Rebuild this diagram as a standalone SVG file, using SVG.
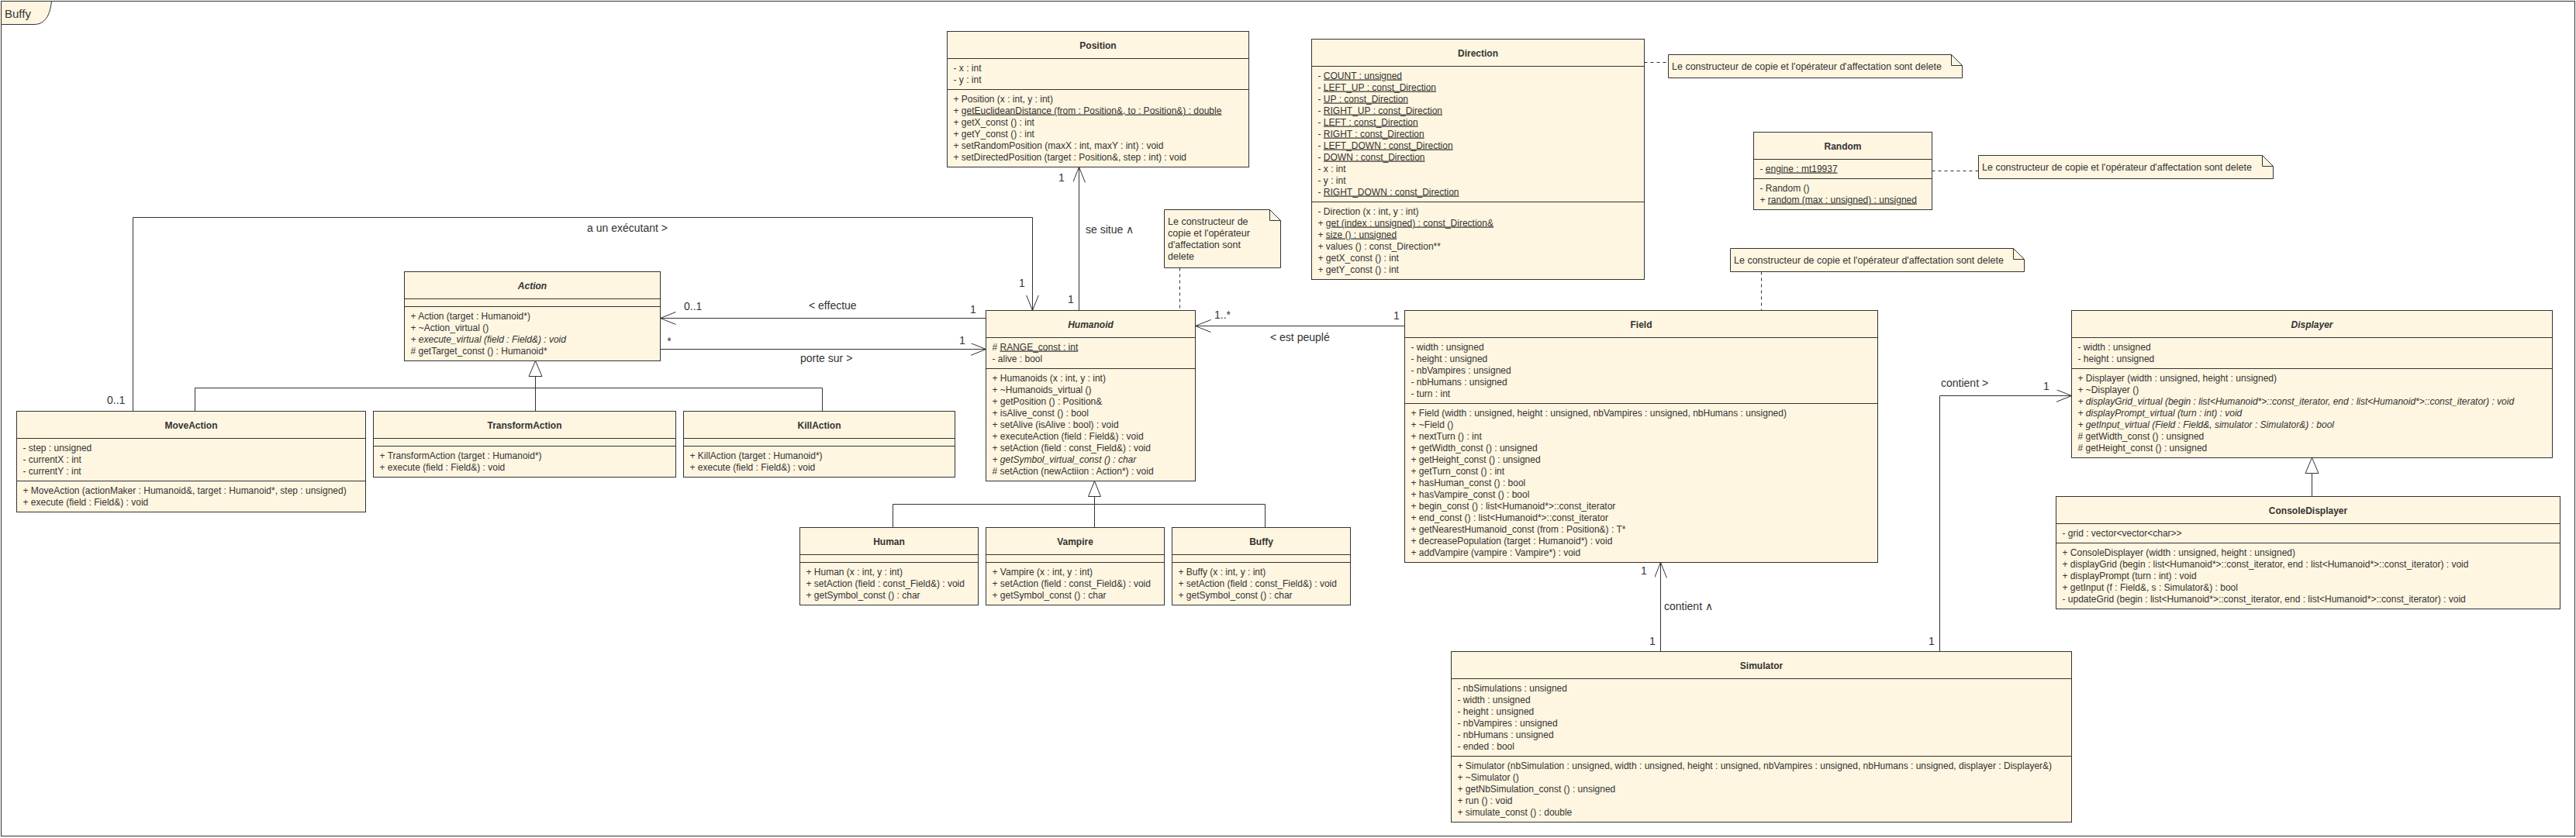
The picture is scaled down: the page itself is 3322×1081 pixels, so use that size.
<svg xmlns="http://www.w3.org/2000/svg" width="3322" height="1081" viewBox="0 0 3322 1081">
<style>
.box{fill:#fef6e1;stroke:#333;stroke-width:1}
.sep{stroke:#333;stroke-width:1;fill:none}
text{font-family:"Liberation Sans",Arial,sans-serif;font-size:12px;fill:#333}
.title{font-weight:bold;text-anchor:middle}
.it{font-style:italic}
.u{text-decoration:underline}
.lbl{font-size:14px}
.mid{text-anchor:middle}
.con{fill:none;stroke:#333;stroke-width:1}
.dash{fill:none;stroke:#333;stroke-width:1;stroke-dasharray:4 4}
.gen{fill:#fff;stroke:#333;stroke-width:1}
.note{font-size:12.5px}
</style>
<defs>
<marker id="open" markerUnits="userSpaceOnUse" markerWidth="22" markerHeight="18" refX="20" refY="8" orient="auto">
<path d="M0,0 L20,8 L0,16" fill="none" stroke="#333" stroke-width="1"/>
</marker>
</defs>
<rect width="3322" height="1081" fill="#fff"/>
<g id="frame">
<rect x="1.5" y="1.5" width="3319" height="1077" fill="none" stroke="#333" stroke-width="1"/>
<path d="M1.5,1.5 H66.5 C64.5,20 58,31.5 44,31.5 H1.5 Z" class="box"/>
<text x="6" y="23" style="font-size:15px">Buffy</text>
</g>

<g id="connectors">
<path class="con" d="M171.5,530.5 V280.5 H1331.5 V400.5" marker-end="url(#open)"/>
<path class="con" d="M1271.5,410.5 H851.5" marker-end="url(#open)"/>
<path class="con" d="M851.5,450.5 H1271.5" marker-end="url(#open)"/>
<path class="con" d="M1811.5,420.5 H1541.5" marker-end="url(#open)"/>
<path class="con" d="M1391.5,400.5 V215.5" marker-end="url(#open)"/>
<path class="con" d="M2141.5,840.5 V725.5" marker-end="url(#open)"/>
<path class="con" d="M2501.5,840.5 V510.5 H2671.5" marker-end="url(#open)"/>
<path class="con" d="M690.5,485.5 V530.5 M251.5,530.5 V500.5 H1060.5 V530.5"/>
<polygon class="gen" points="690.5,465.5 682,485.5 699,485.5"/>
<path class="con" d="M1411.5,640.5 V680.5 M1151.5,680.5 V650.5 H1631.5 V680.5"/>
<polygon class="gen" points="1411.5,620.5 1403.5,640.5 1419.5,640.5"/>
<path class="con" d="M2981.5,610.5 V640.5"/>
<polygon class="gen" points="2981.5,590.5 2973,610.5 2990,610.5"/>
<path class="dash" d="M2120.5,80.5 H2151.5"/>
<path class="dash" d="M2491.5,220.5 H2551.5"/>
<path class="dash" d="M2271.5,350.5 V400.5"/>
<path class="dash" d="M1521.5,345.5 V400.5"/>
<text class="lbl" x="757" y="299">a un exécutant &gt;</text>
<text class="lbl" x="1043" y="399">&lt; effectue</text>
<text class="lbl" x="1032" y="467">porte sur &gt;</text>
<text class="lbl" x="1638" y="440">&lt; est peuplé</text>
<text class="lbl" x="1400" y="301">se situe ∧</text>
<text class="lbl" x="2146" y="787">contient ∧</text>
<text class="lbl" x="2503" y="499">contient &gt;</text>
<text class="lbl mid" x="1369" y="234">1</text>
<text class="lbl mid" x="1381" y="391">1</text>
<text class="lbl" x="138" y="521">0..1</text>
<text class="lbl mid" x="1318" y="370">1</text>
<text class="lbl" x="882" y="400">0..1</text>
<text class="lbl mid" x="1255" y="404">1</text>
<text class="lbl mid" x="863" y="445">*</text>
<text class="lbl mid" x="1241" y="444">1</text>
<text class="lbl" x="1566" y="411">1..*</text>
<text class="lbl mid" x="1801" y="412">1</text>
<text class="lbl mid" x="2120" y="741">1</text>
<text class="lbl mid" x="2131" y="832">1</text>
<text class="lbl mid" x="2639" y="503">1</text>
<text class="lbl mid" x="2491" y="832">1</text>
</g>

<g id="note-direction">
<path class="box" d="M2151.5,70.5 H2516.5 L2530.5,84.5 V100.5 H2151.5 Z"/>
<path class="sep" d="M2516.5,70.5 V84.5 H2530.5"/>
<text class="note" x="2156" y="90">Le constructeur de copie et l'opérateur d'affectation sont delete</text>
</g>
<g id="note-random">
<path class="box" d="M2551.5,200.5 H2917.5 L2931.5,214.5 V230.5 H2551.5 Z"/>
<path class="sep" d="M2917.5,200.5 V214.5 H2931.5"/>
<text class="note" x="2556" y="220">Le constructeur de copie et l'opérateur d'affectation sont delete</text>
</g>
<g id="note-field">
<path class="box" d="M2231.5,320.5 H2596.5 L2610.5,334.5 V350.5 H2231.5 Z"/>
<path class="sep" d="M2596.5,320.5 V334.5 H2610.5"/>
<text class="note" x="2236" y="340">Le constructeur de copie et l'opérateur d'affectation sont delete</text>
</g>
<g id="note-humanoid">
<path class="box" d="M1501.5,270.5 H1637.5 L1651.5,284.5 V345.5 H1501.5 Z"/>
<path class="sep" d="M1637.5,270.5 V284.5 H1651.5"/>
<text class="note" x="1506" y="290">Le constructeur de</text>
<text class="note" x="1506" y="305">copie et l'opérateur</text>
<text class="note" x="1506" y="320">d'affectation sont</text>
<text class="note" x="1506" y="335">delete</text>
</g>

<g id="Position">
<rect class="box" x="1221.5" y="40.5" width="389" height="175"/>
<path class="sep" d="M1221.5,75.5 H1610.5 M1221.5,115.5 H1610.5"/>
<text class="title" x="1416" y="62.5">Position</text>
<text x="1229.5" y="91.5">- x : int</text>
<text x="1229.5" y="106.5">- y : int</text>
<text x="1229.5" y="131.5">+ Position (x : int, y : int)</text>
<text x="1229.5" y="146.5">+ <tspan class="u">getEuclideanDistance (from : Position&amp;, to : Position&amp;) : double</tspan></text>
<text x="1229.5" y="161.5">+ getX_const () : int</text>
<text x="1229.5" y="176.5">+ getY_const () : int</text>
<text x="1229.5" y="191.5">+ setRandomPosition (maxX : int, maxY : int) : void</text>
<text x="1229.5" y="206.5">+ setDirectedPosition (target : Position&amp;, step : int) : void</text>
</g>

<g id="Direction">
<rect class="box" x="1691.5" y="50.5" width="429" height="310"/>
<path class="sep" d="M1691.5,85.5 H2120.5 M1691.5,260.5 H2120.5"/>
<text class="title" x="1906" y="72.5">Direction</text>
<text x="1699.5" y="101.5">- <tspan class="u">COUNT : unsigned</tspan></text>
<text x="1699.5" y="116.5">- <tspan class="u">LEFT_UP : const_Direction</tspan></text>
<text x="1699.5" y="131.5">- <tspan class="u">UP : const_Direction</tspan></text>
<text x="1699.5" y="146.5">- <tspan class="u">RIGHT_UP : const_Direction</tspan></text>
<text x="1699.5" y="161.5">- <tspan class="u">LEFT : const_Direction</tspan></text>
<text x="1699.5" y="176.5">- <tspan class="u">RIGHT : const_Direction</tspan></text>
<text x="1699.5" y="191.5">- <tspan class="u">LEFT_DOWN : const_Direction</tspan></text>
<text x="1699.5" y="206.5">- <tspan class="u">DOWN : const_Direction</tspan></text>
<text x="1699.5" y="221.5">- x : int</text>
<text x="1699.5" y="236.5">- y : int</text>
<text x="1699.5" y="251.5">- <tspan class="u">RIGHT_DOWN : const_Direction</tspan></text>
<text x="1699.5" y="276.5">- Direction (x : int, y : int)</text>
<text x="1699.5" y="291.5">+ <tspan class="u">get (index : unsigned) : const_Direction&amp;</tspan></text>
<text x="1699.5" y="306.5">+ <tspan class="u">size () : unsigned</tspan></text>
<text x="1699.5" y="321.5">+ values () : const_Direction**</text>
<text x="1699.5" y="336.5">+ getX_const () : int</text>
<text x="1699.5" y="351.5">+ getY_const () : int</text>
</g>

<g id="Random">
<rect class="box" x="2261.5" y="170.5" width="230" height="100"/>
<path class="sep" d="M2261.5,205.5 H2491.5 M2261.5,230.5 H2491.5"/>
<text class="title" x="2376.5" y="192.5">Random</text>
<text x="2269.5" y="221.5">- <tspan class="u">engine : mt19937</tspan></text>
<text x="2269.5" y="246.5">- Random ()</text>
<text x="2269.5" y="261.5">+ <tspan class="u">random (max : unsigned) : unsigned</tspan></text>
</g>

<g id="Humanoid">
<rect class="box" x="1271.5" y="400.5" width="270" height="220"/>
<path class="sep" d="M1271.5,435.5 H1541.5 M1271.5,475.5 H1541.5"/>
<text class="title it" x="1406.5" y="422.5">Humanoid</text>
<text x="1279.5" y="451.5"># <tspan class="u">RANGE_const : int</tspan></text>
<text x="1279.5" y="466.5">- alive : bool</text>
<text x="1279.5" y="491.5">+ Humanoids (x : int, y : int)</text>
<text x="1279.5" y="506.5">+ ~Humanoids_virtual ()</text>
<text x="1279.5" y="521.5">+ getPosition () : Position&amp;</text>
<text x="1279.5" y="536.5">+ isAlive_const () : bool</text>
<text x="1279.5" y="551.5">+ setAlive (isAlive : bool) : void</text>
<text x="1279.5" y="566.5">+ executeAction (field : Field&amp;) : void</text>
<text x="1279.5" y="581.5">+ setAction (field : const_Field&amp;) : void</text>
<text class="it" x="1279.5" y="596.5">+ getSymbol_virtual_const () : char</text>
<text x="1279.5" y="611.5"># setAction (newActiion : Action*) : void</text>
</g>

<g id="Field">
<rect class="box" x="1811.5" y="400.5" width="610" height="325"/>
<path class="sep" d="M1811.5,435.5 H2421.5 M1811.5,520.5 H2421.5"/>
<text class="title" x="2116.5" y="422.5">Field</text>
<text x="1819.5" y="451.5">- width : unsigned</text>
<text x="1819.5" y="466.5">- height : unsigned</text>
<text x="1819.5" y="481.5">- nbVampires : unsigned</text>
<text x="1819.5" y="496.5">- nbHumans : unsigned</text>
<text x="1819.5" y="511.5">- turn : int</text>
<text x="1819.5" y="536.5">+ Field (width : unsigned, height : unsigned, nbVampires : unsigned, nbHumans : unsigned)</text>
<text x="1819.5" y="551.5">+ ~Field ()</text>
<text x="1819.5" y="566.5">+ nextTurn () : int</text>
<text x="1819.5" y="581.5">+ getWidth_const () : unsigned</text>
<text x="1819.5" y="596.5">+ getHeight_const () : unsigned</text>
<text x="1819.5" y="611.5">+ getTurn_const () : int</text>
<text x="1819.5" y="626.5">+ hasHuman_const () : bool</text>
<text x="1819.5" y="641.5">+ hasVampire_const () : bool</text>
<text x="1819.5" y="656.5">+ begin_const () : list&lt;Humanoid*&gt;::const_iterator</text>
<text x="1819.5" y="671.5">+ end_const () : list&lt;Humanoid*&gt;::const_iterator</text>
<text x="1819.5" y="686.5">+ getNearestHumanoid_const (from : Position&amp;) : T*</text>
<text x="1819.5" y="701.5">+ decreasePopulation (target : Humanoid*) : void</text>
<text x="1819.5" y="716.5">+ addVampire (vampire : Vampire*) : void</text>
</g>

<g id="Displayer">
<rect class="box" x="2671.5" y="400.5" width="620" height="190"/>
<path class="sep" d="M2671.5,435.5 H3291.5 M2671.5,475.5 H3291.5"/>
<text class="title it" x="2981.5" y="422.5">Displayer</text>
<text x="2679.5" y="451.5">- width : unsigned</text>
<text x="2679.5" y="466.5">- height : unsigned</text>
<text x="2679.5" y="491.5">+ Displayer (width : unsigned, height : unsigned)</text>
<text x="2679.5" y="506.5">+ ~Displayer ()</text>
<text class="it" x="2679.5" y="521.5">+ displayGrid_virtual (begin : list&lt;Humanoid*&gt;::const_iterator, end : list&lt;Humanoid*&gt;::const_iterator) : void</text>
<text class="it" x="2679.5" y="536.5">+ displayPrompt_virtual (turn : int) : void</text>
<text class="it" x="2679.5" y="551.5">+ getInput_virtual (Field : Field&amp;, simulator : Simulator&amp;) : bool</text>
<text x="2679.5" y="566.5"># getWidth_const () : unsigned</text>
<text x="2679.5" y="581.5"># getHeight_const () : unsigned</text>
</g>

<g id="ConsoleDisplayer">
<rect class="box" x="2651.5" y="640.5" width="650" height="145"/>
<path class="sep" d="M2651.5,675.5 H3301.5 M2651.5,700.5 H3301.5"/>
<text class="title" x="2976.5" y="662.5">ConsoleDisplayer</text>
<text x="2659.5" y="691.5">- grid : vector&lt;vector&lt;char&gt;&gt;</text>
<text x="2659.5" y="716.5">+ ConsoleDisplayer (width : unsigned, height : unsigned)</text>
<text x="2659.5" y="731.5">+ displayGrid (begin : list&lt;Humanoid*&gt;::const_iterator, end : list&lt;Humanoid*&gt;::const_iterator) : void</text>
<text x="2659.5" y="746.5">+ displayPrompt (turn : int) : void</text>
<text x="2659.5" y="761.5">+ getInput (f : Field&amp;, s : Simulator&amp;) : bool</text>
<text x="2659.5" y="776.5">- updateGrid (begin : list&lt;Humanoid*&gt;::const_iterator, end : list&lt;Humanoid*&gt;::const_iterator) : void</text>
</g>

<g id="Simulator">
<rect class="box" x="1871.5" y="840.5" width="800" height="220"/>
<path class="sep" d="M1871.5,875.5 H2671.5 M1871.5,975.5 H2671.5"/>
<text class="title" x="2271.5" y="862.5">Simulator</text>
<text x="1879.5" y="891.5">- nbSimulations : unsigned</text>
<text x="1879.5" y="906.5">- width : unsigned</text>
<text x="1879.5" y="921.5">- height : unsigned</text>
<text x="1879.5" y="936.5">- nbVampires : unsigned</text>
<text x="1879.5" y="951.5">- nbHumans : unsigned</text>
<text x="1879.5" y="966.5">- ended : bool</text>
<text x="1879.5" y="991.5">+ Simulator (nbSimulation : unsigned, width : unsigned, height : unsigned, nbVampires : unsigned, nbHumans : unsigned, displayer : Displayer&amp;)</text>
<text x="1879.5" y="1006.5">+ ~Simulator ()</text>
<text x="1879.5" y="1021.5">+ getNbSimulation_const () : unsigned</text>
<text x="1879.5" y="1036.5">+ run () : void</text>
<text x="1879.5" y="1051.5">+ simulate_const () : double</text>
</g>

<g id="Action">
<rect class="box" x="521.5" y="350.5" width="330" height="115"/>
<path class="sep" d="M521.5,385.5 H851.5 M521.5,395.5 H851.5"/>
<text class="title it" x="686.5" y="372.5">Action</text>
<text x="529.5" y="411.5">+ Action (target : Humanoid*)</text>
<text x="529.5" y="426.5">+ ~Action_virtual ()</text>
<text class="it" x="529.5" y="441.5">+ execute_virtual (field : Field&amp;) : void</text>
<text x="529.5" y="456.5"># getTarget_const () : Humanoid*</text>
</g>

<g id="MoveAction">
<rect class="box" x="21.5" y="530.5" width="450" height="130"/>
<path class="sep" d="M21.5,565.5 H471.5 M21.5,620.5 H471.5"/>
<text class="title" x="246.5" y="552.5">MoveAction</text>
<text x="29.5" y="581.5">- step : unsigned</text>
<text x="29.5" y="596.5">- currentX : int</text>
<text x="29.5" y="611.5">- currentY : int</text>
<text x="29.5" y="636.5">+ MoveAction (actionMaker : Humanoid&amp;, target : Humanoid*, step : unsigned)</text>
<text x="29.5" y="651.5">+ execute (field : Field&amp;) : void</text>
</g>

<g id="TransformAction">
<rect class="box" x="481.5" y="530.5" width="390" height="85"/>
<path class="sep" d="M481.5,565.5 H871.5 M481.5,575.5 H871.5"/>
<text class="title" x="676.5" y="552.5">TransformAction</text>
<text x="489.5" y="591.5">+ TransformAction (target : Humanoid*)</text>
<text x="489.5" y="606.5">+ execute (field : Field&amp;) : void</text>
</g>

<g id="KillAction">
<rect class="box" x="881.5" y="530.5" width="350" height="85"/>
<path class="sep" d="M881.5,565.5 H1231.5 M881.5,575.5 H1231.5"/>
<text class="title" x="1056.5" y="552.5">KillAction</text>
<text x="889.5" y="591.5">+ KillAction (target : Humanoid*)</text>
<text x="889.5" y="606.5">+ execute (field : Field&amp;) : void</text>
</g>

<g id="Human">
<rect class="box" x="1031.5" y="680.5" width="230" height="100"/>
<path class="sep" d="M1031.5,715.5 H1261.5 M1031.5,725.5 H1261.5"/>
<text class="title" x="1146.5" y="702.5">Human</text>
<text x="1039.5" y="741.5">+ Human (x : int, y : int)</text>
<text x="1039.5" y="756.5">+ setAction (field : const_Field&amp;) : void</text>
<text x="1039.5" y="771.5">+ getSymbol_const () : char</text>
</g>

<g id="Vampire">
<rect class="box" x="1271.5" y="680.5" width="230" height="100"/>
<path class="sep" d="M1271.5,715.5 H1501.5 M1271.5,725.5 H1501.5"/>
<text class="title" x="1386.5" y="702.5">Vampire</text>
<text x="1279.5" y="741.5">+ Vampire (x : int, y : int)</text>
<text x="1279.5" y="756.5">+ setAction (field : const_Field&amp;) : void</text>
<text x="1279.5" y="771.5">+ getSymbol_const () : char</text>
</g>

<g id="Buffy">
<rect class="box" x="1511.5" y="680.5" width="230" height="100"/>
<path class="sep" d="M1511.5,715.5 H1741.5 M1511.5,725.5 H1741.5"/>
<text class="title" x="1626.5" y="702.5">Buffy</text>
<text x="1519.5" y="741.5">+ Buffy (x : int, y : int)</text>
<text x="1519.5" y="756.5">+ setAction (field : const_Field&amp;) : void</text>
<text x="1519.5" y="771.5">+ getSymbol_const () : char</text>
</g>
</svg>
